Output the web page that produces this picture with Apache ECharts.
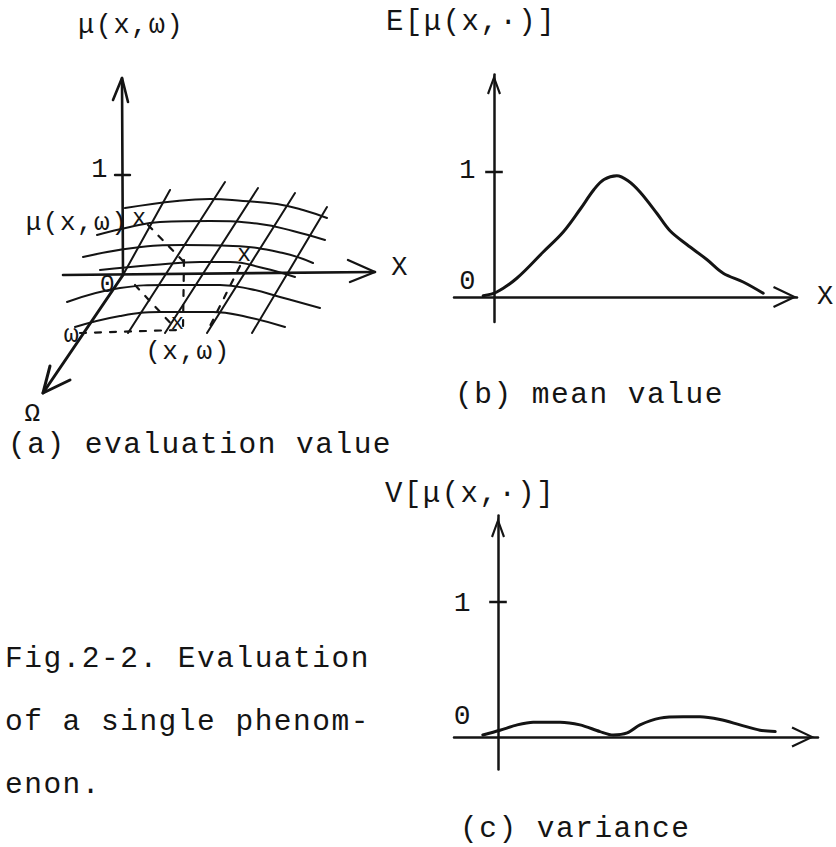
<!DOCTYPE html>
<html>
<head>
<meta charset="utf-8">
<script src="https://cdn.jsdelivr.net/npm/echarts@6/dist/echarts.min.js"></script>
<style>
  html, body { margin: 0; padding: 0; background: #ffffff; }
  #chart { width: 836px; height: 847px; }
  /* typewriter-like pitch for every label */
  #chart text { letter-spacing: 1.5px; }
</style>
</head>
<body>
<div id="chart"></div>
<script>
// ---------- (a) surface sketch, drawing-plane units (1 = the μ tick) ----------
// curves of the surface at fixed ω (back to front)
const rowA = [[0.02, 0.67], [0.54, 0.74], [0.87, 0.76], [1.20, 0.74], [1.54, 0.71], [1.80, 0.65], [2.04, 0.57]];
const rowB = [[-0.26, 0.40], [0.07, 0.48], [0.37, 0.53], [0.87, 0.54], [1.37, 0.51], [1.70, 0.44], [2.02, 0.35]];
const rowC = [[-0.40, 0.18], [0.10, 0.27], [0.60, 0.30], [1.10, 0.29], [1.60, 0.22], [1.90, 0.12]];
const rowD = [[-0.23, 0.05], [0.30, 0.10], [0.77, 0.13], [1.07, 0.13], [1.40, 0.07], [1.72, -0.02]];
const rowE = [[-0.56, -0.27], [-0.03, -0.13], [0.44, -0.10], [0.97, -0.10], [1.27, -0.14], [1.57, -0.22], [1.97, -0.33]];
const rowF = [[-0.48, -0.52], [-0.03, -0.41], [0.37, -0.37], [0.90, -0.37], [1.24, -0.42], [1.62, -0.52]];
// curves at fixed x (left to right)
const col1 = [[0.47, 0.85], [0, 0]];
const col2 = [[1.02, 0.93], [0.05, -0.58]];
const col3 = [[1.35, 0.87], [0.42, -0.58]];
const col4 = [[1.72, 0.82], [0.84, -0.58]];
const col5 = [[2.04, 0.68], [1.29, -0.58]];
// axes of the sketch
const muAxis = [[0, 0], [-0.01, 1.97]];
const muArrow = [[-0.10, 1.75], [-0.01, 1.97], [0.05, 1.73]];
const muTick = [[-0.08, 1], [0.07, 1]];
const xAxisLine = [[-0.60, 0], [2.52, 0.03]];
const xArrow = [[2.25, 0.15], [2.52, 0.03], [2.27, -0.07]];
const omegaAxis = [[0, 0], [-0.80, -1.18]];
const omegaArrow = [[-0.73, -0.91], [-0.80, -1.18], [-0.53, -1.05]];
// construction lines
const dashOmega = [[-0.43, -0.58], [0.55, -0.55]];
const dashVert = [[0.61, 0.15], [0.60, -0.53]];
const dashMu = [[0.25, 0.50], [0.60, 0.14]];
const dashOrigin = [[0.12, -0.10], [0.52, -0.53]];
const dashX = [[1.17, 0.09], [0.85, -0.55]];
// annotations: text, u, v, font size
const sketchLabels = [
  ['1', -0.23, 1.05, 27],
  ['μ(x,ω)', -0.46, 0.52, 26],
  ['x', 0.17, 0.56, 23],
  ['x', 1.22, 0.20, 23],
  ['0', -0.15, -0.10, 25],
  ['x', 0.55, -0.48, 22],
  ['ω', -0.51, -0.60, 25],
  ['(x,ω)', 0.65, -0.77, 26],
  ['X', 2.77, 0.07, 27],
  ['Ω', -0.90, -1.39, 26]
];

// ---------- (b) mean value E[μ(x,·)] ----------
const meanX = [-0.27, 0.07, 0.57, 1.23, 1.73, 2.15, 2.50, 2.75, 3.07, 3.35, 3.65, 4.07, 4.40, 4.82, 5.32, 5.73, 6.23, 6.73];
const meanY = [0.01, 0.04, 0.15, 0.36, 0.52, 0.70, 0.86, 0.94, 0.97, 0.93, 0.84, 0.67, 0.53, 0.42, 0.30, 0.19, 0.12, 0.03];

// ---------- (c) variance V[μ(x,·)] ----------
const varX = [-0.38, 0.05, 0.48, 0.88, 1.55, 2.05, 2.55, 2.88, 3.23, 3.55, 4.05, 4.63, 5.05, 5.55, 6.05, 6.55, 6.93];
const varY = [0.015, 0.05, 0.09, 0.11, 0.11, 0.09, 0.04, 0.015, 0.03, 0.09, 0.14, 0.15, 0.15, 0.13, 0.09, 0.05, 0.04];

// ---------- text ----------
const captions = ['(a) evaluation value', '(b) mean value', '(c) variance'];
const figNote = ['Fig.2-2. Evaluation', 'of a single phenom-', 'enon.'];
const titles = ['μ(x,ω)', 'E[μ(x,·)]', 'V[μ(x,·)]'];
const unitTicks = [0, 1];

const INK = '#141414';
const FONT = '"Liberation Mono", "DejaVu Sans Mono", monospace';

// open chevron arrowheads (pointing up, rotated by the axis)
const chevronWide = 'path://M0,23L11,0L22,23L20,24L11,5L2,24Z';
const chevronNarrow = 'path://M0,19L7,0L14,19L12,20L7,6L2,20Z';

const plainLabel = {
  show: true, position: 'inside', formatter: '{b}',
  color: INK, fontFamily: FONT, textBorderWidth: 0, textShadowBlur: 0, opacity: 1
};
// label anchors: invisible, fully opaque so the text keeps full ink
const anchorStyle = { color: 'rgba(0,0,0,0)', opacity: 1 };

function sketchLine(data, width, opts) {
  opts = opts || {};
  return {
    type: 'line', xAxisIndex: 0, yAxisIndex: 0, data: data,
    smooth: opts.smooth || false, symbol: 'none', silent: true,
    lineStyle: {
      color: INK, width: width, cap: 'round', join: 'round',
      type: opts.dashed ? [6, 9] : 'solid'
    },
    z: opts.z || 2
  };
}

function textAt(x, y, text, size) {
  return {
    type: 'text', x: x, y: y, silent: true,
    style: {
      text: text, fill: INK, font: size + 'px ' + FONT,
      align: 'left', verticalAlign: 'middle'
    }
  };
}

// unit tick crossing the axis, plus its "0" and "1" marks
function unitMarks(axisIdx, zeroOffset, oneOffset, size) {
  return [
    {
      type: 'line', xAxisIndex: axisIdx, yAxisIndex: axisIdx, silent: true, symbol: 'none',
      data: [[-0.22, unitTicks[1]], [0.22, unitTicks[1]]], lineStyle: { color: INK, width: 2.5 }
    },
    {
      type: 'scatter', xAxisIndex: axisIdx, yAxisIndex: axisIdx, silent: true,
      symbolSize: 1, itemStyle: anchorStyle,
      data: [
        { value: [0, unitTicks[0]], name: String(unitTicks[0]), label: { offset: zeroOffset } },
        { value: [0, unitTicks[1]], name: String(unitTicks[1]), label: { offset: oneOffset } }
      ],
      label: Object.assign({}, plainLabel, { fontSize: size }),
      z: 5
    }
  ];
}

const axisFrame = (extra) => Object.assign({
  type: 'value',
  splitLine: { show: false },
  axisTick: { show: false },
  axisLabel: { show: false }
}, extra);

const series = [];
[rowA, rowB, rowC, rowD, rowE, rowF].forEach(r => series.push(sketchLine(r, 2, { smooth: 0.45 })));
[col1, col2, col3, col4, col5].forEach(c => series.push(sketchLine(c, 2)));
series.push(sketchLine(muAxis, 2.6, { z: 3 }));
series.push(sketchLine(muArrow, 2.6, { z: 3 }));
series.push(sketchLine(muTick, 2.4, { z: 3 }));
series.push(sketchLine(xAxisLine, 2.6, { z: 3 }));
series.push(sketchLine(xArrow, 2.4, { z: 3 }));
series.push(sketchLine(omegaAxis, 3, { z: 3 }));
series.push(sketchLine(omegaArrow, 3, { z: 3 }));
[dashOmega, dashVert, dashMu, dashOrigin, dashX].forEach(d => series.push(sketchLine(d, 2.2, { dashed: true })));
series.push({
  type: 'scatter', xAxisIndex: 0, yAxisIndex: 0, silent: true,
  symbolSize: 1, itemStyle: anchorStyle,
  data: sketchLabels.map(([t, u, v, s]) => ({ value: [u, v], name: t, label: { fontSize: s } })),
  label: plainLabel,
  z: 5
});

// (b) mean value curve
series.push({
  type: 'line', xAxisIndex: 1, yAxisIndex: 1, silent: true,
  data: meanX.map((x, i) => [x, meanY[i]]),
  smooth: 0.35, symbol: 'none',
  lineStyle: { color: INK, width: 3, cap: 'round' }
});
series.push(...unitMarks(1, [-26, -15], [-26, -1], 27));

// (c) variance curve
series.push({
  type: 'line', xAxisIndex: 2, yAxisIndex: 2, silent: true,
  data: varX.map((x, i) => [x, varY[i]]),
  smooth: 0.3, symbol: 'none',
  lineStyle: { color: INK, width: 3, cap: 'round' }
});
series.push(...unitMarks(2, [-35, -21], [-35, 1], 28));

const chart = echarts.init(document.getElementById('chart'), null, { renderer: 'svg' });
chart.setOption({
  animation: false,
  backgroundColor: '#ffffff',
  textStyle: { fontFamily: FONT, color: INK },
  grid: [
    { left: 0, top: 0, width: 420, height: 450 },
    { left: 454, top: 74.5, width: 343, height: 247.5 },
    { left: 454, top: 515.6, width: 364, height: 253.8 }
  ],
  xAxis: [
    { type: 'value', gridIndex: 0, min: -1.23, max: 2.97, show: false },
    axisFrame({
      gridIndex: 1, min: -1, max: 7.575,
      axisLine: { show: true, onZero: true, symbol: ['none', chevronWide], symbolSize: [22, 24],
        symbolOffset: [0, -12], lineStyle: { color: INK, width: 2.5 } },
      name: 'X', nameLocation: 'end', nameGap: 20,
      nameTextStyle: { color: INK, fontFamily: FONT, fontSize: 27, padding: [4, 0, 0, 0] }
    }),
    axisFrame({
      gridIndex: 2, min: -1.1, max: 8,
      axisLine: { show: true, onZero: true, symbol: ['none', chevronWide], symbolSize: [21, 30],
        symbolOffset: [0, -15], lineStyle: { color: INK, width: 2.5 } }
    })
  ],
  yAxis: [
    { type: 'value', gridIndex: 0, min: -1.75, max: 2.75, show: false },
    axisFrame({
      gridIndex: 1, min: -0.2, max: 1.78,
      axisLine: { show: true, onZero: true, symbol: ['none', chevronNarrow], symbolSize: [14, 20],
        symbolOffset: [0, -10], lineStyle: { color: INK, width: 2.5 } }
    }),
    axisFrame({
      gridIndex: 2, min: -0.24, max: 1.64,
      axisLine: { show: true, onZero: true, symbol: ['none', chevronNarrow], symbolSize: [14, 25],
        symbolOffset: [0, -12], lineStyle: { color: INK, width: 2.5 } }
    })
  ],
  series: series,
  graphic: [
    textAt(78, 26, titles[0], 27),
    textAt(386, 22, titles[1], 29),
    textAt(385, 494, titles[2], 29),
    textAt(8, 445, captions[0], 29.5),
    textAt(455, 395, captions[1], 29.5),
    textAt(460, 829, captions[2], 29.5),
    textAt(5, 659, figNote[0], 29.5),
    textAt(5, 722, figNote[1], 29.5),
    textAt(5, 785, figNote[2], 29.5)
  ]
});
</script>
</body>
</html>
